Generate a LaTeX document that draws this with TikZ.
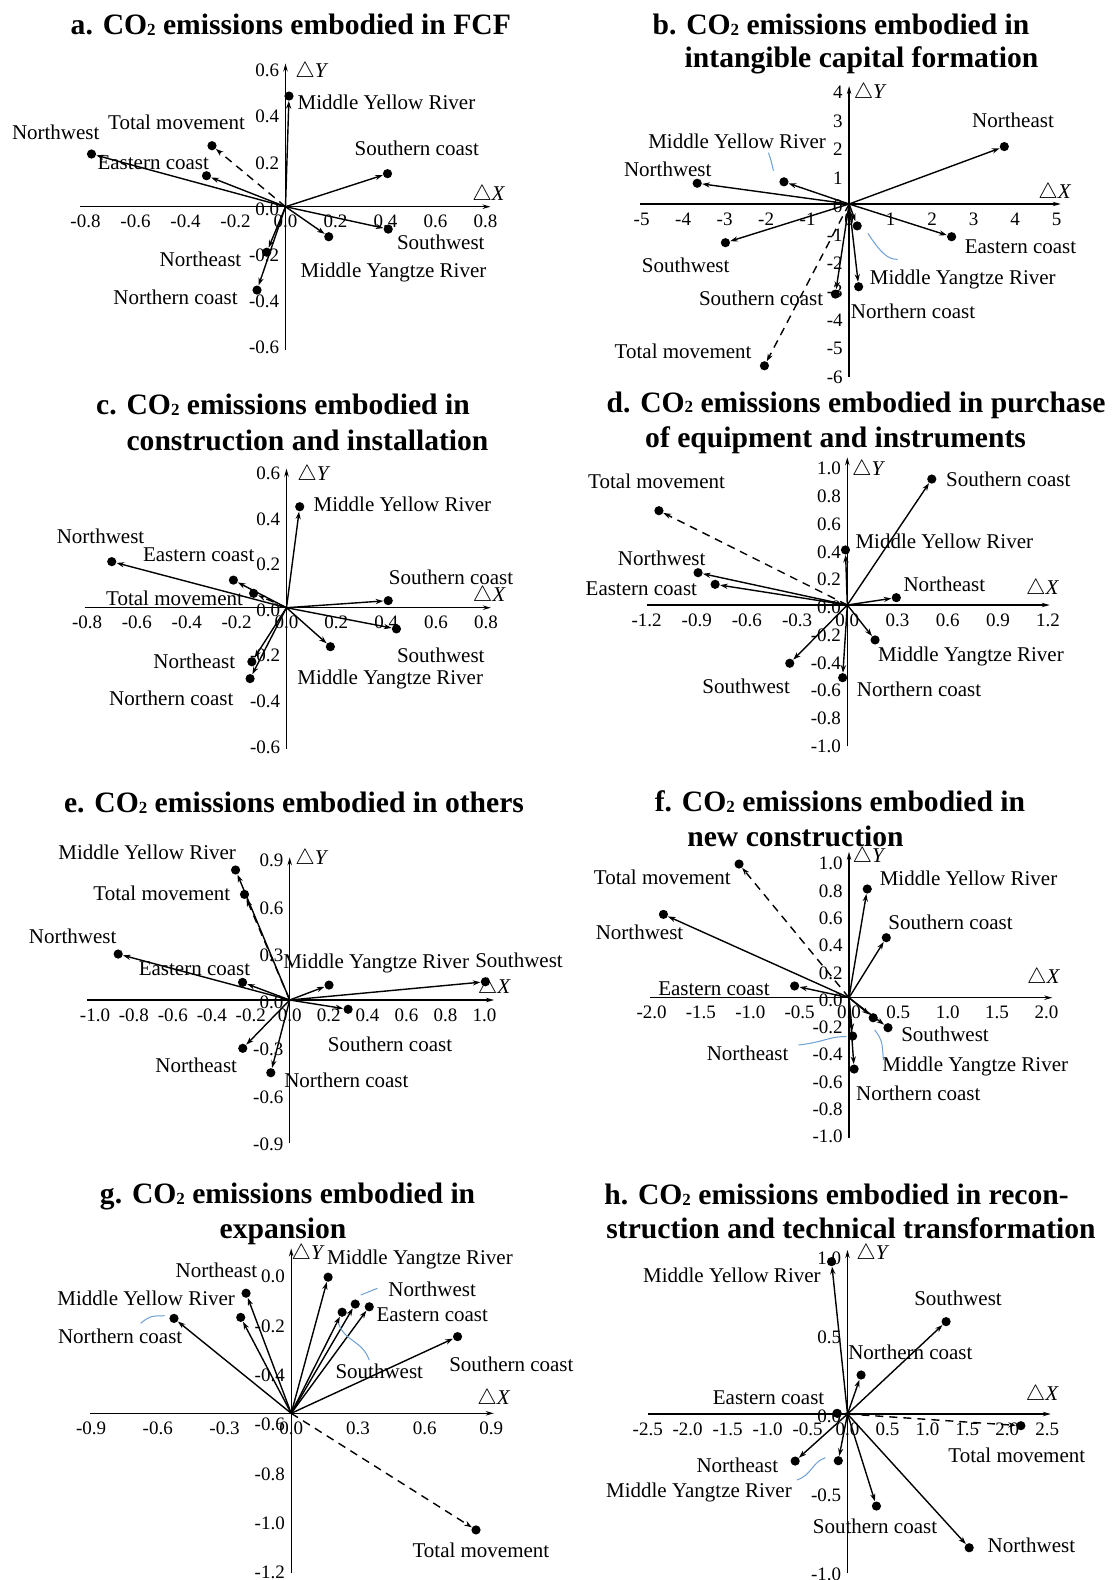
\documentclass[tikz,border=0pt]{standalone}
\usepackage{fontspec}
\setmainfont{Liberation Serif}
\usetikzlibrary{arrows.meta}

\definecolor{leaderblue}{RGB}{110,160,210}
\newcommand{\cotwo}{CO\raisebox{-0.4pt}{\fontsize{8.5}{9}\selectfont 2}}

\tikzset{
  enddot/.style = {circle, fill, inner sep=0pt, minimum size=4.6pt},
  vec/.style = {line width=0.7pt, -{Stealth[length=3.8pt,width=2.6pt]}},
  total/.style = {vec, dash pattern=on 4pt off 3pt},
  axisline/.style = {line width=0.7pt, -{Stealth[length=4pt,width=2.2pt]}},
  regionlbl/.style = {inner sep=0pt, font=\fontsize{10.5}{12}\selectfont},
  ticklbl/.style = {inner sep=0pt, font=\fontsize{9.5}{10}\selectfont},
  xticklbl/.style = {ticklbl, yshift=-7.5pt},
  yticklbl/.style = {ticklbl, anchor=east, xshift=-3pt, yshift=-1.2pt},
  heading/.style = {inner sep=0pt, font=\fontsize{14.8}{17}\selectfont\bfseries},
  leader/.style = {leaderblue, line width=0.5pt},
}

\begin{document}
\begin{tikzpicture}[x=0.5pt, y=-0.5pt]
\fill[white] (0,0) rectangle (1113,1580);
\useasboundingbox (0,0) rectangle (1113,1580);

% titles
\node[heading] (aT) at (290.8,25) {a. \cotwo{} emissions embodied in FCF};
\node[heading] (bT1) at (841,25) {b. \cotwo{} emissions embodied in};
\node[heading] (bT2) at (861.5,60) {intangible capital formation};
\node[heading] (cT1) at (283,405) {c. \cotwo{} emissions embodied in};
\node[heading] (cT2) at (307.5,440.7) {construction and installation};
\node[heading] (dT1) at (856,405) {d. \cotwo{} emissions embodied in purchase};
\node[heading] (dT2) at (835.6,440) {of equipment and instruments};
\node[heading] (eT) at (294,803) {e. \cotwo{} emissions embodied in others};
\node[heading] (fT1) at (840,801.7) {f. \cotwo{} emissions embodied in};
\node[heading] (fT2) at (795.5,836.7) {new construction};
\node[heading] (gT1) at (287.6,1196.7) {g. \cotwo{} emissions embodied in};
\node[heading] (gT2) at (283,1231.7) {expansion};
\node[heading] (hT1) at (836.5,1195) {h. \cotwo{} emissions embodied in recon-};
\node[heading] (hT2) at (851,1228.3) {struction and technical transformation};

% a. FCF
\begin{scope}[shift={(285.5,206.7)}, x=125pt, y=115.5pt]
  \coordinate (a0) at (0,0);
  \draw[axisline] (-0.82,0) -- (0.82,0);
  \draw[axisline] (0,-0.62) -- (0,0.62);
  \foreach \v [count=\i] in {-0.8,-0.6,-0.4,-0.2,0.0,0.2,0.4,0.6,0.8}
    \node[xticklbl] (aX\i) at (\v,0) {\v};
  \foreach \v [count=\i] in {-0.6,-0.4,-0.2,0.0,0.2,0.4,0.6}
    \node[yticklbl] (aY\i) at (0,\v) {\v};
  \node[regionlbl] (aDY) at (0.106,0.584) {$\triangle$\textit{Y}};
  \node[regionlbl] (aDX) at (0.813,0.05) {$\triangle$\textit{X}};

  \node[enddot] (aMYR) at (0.014,0.479) {};
  \node[enddot] (aTM) at (-0.294,0.264) {};
  \node[enddot] (aNW) at (-0.776,0.228) {};
  \node[enddot] (aEC) at (-0.316,0.134) {};
  \node[enddot] (aSC) at (0.408,0.143) {};
  \node[enddot] (aSW) at (0.411,-0.097) {};
  \node[enddot] (aMYZ) at (0.173,-0.130) {};
  \node[enddot] (aNE) at (-0.075,-0.197) {};
  \node[enddot] (aNC) at (-0.114,-0.361) {};
  \foreach \r in {MYR,NW,EC,SC,SW,MYZ,NE,NC}
    \draw[vec] (a0) -- (a\r);
  \draw[total] (a0) -- (aTM);

  \node[regionlbl] (aMYRl) at (0.404,0.450) {Middle Yellow River};
  \node[regionlbl] (aTMl) at (-0.436,0.365) {Total movement};
  \node[regionlbl] (aNWl) at (-0.919,0.322) {Northwest};
  \node[regionlbl] (aECl) at (-0.529,0.192) {Eastern coast};
  \node[regionlbl] (aSCl) at (0.525,0.253) {Southern coast};
  \node[regionlbl] (aSWl) at (0.621,-0.154) {Southwest};
  \node[regionlbl] (aMYZl) at (0.432,-0.286) {Middle Yangtze River};
  \node[regionlbl] (aNEl) at (-0.340,-0.226) {Northeast};
  \node[regionlbl] (aNCl) at (-0.44,-0.394) {Northern coast};
\end{scope}

% b. intangible capital formation
\begin{scope}[shift={(849.1,204)}, x=20.75pt, y=14.215pt]
  \coordinate (b0) at (0,0);
  \draw[axisline] (-5.03,0) -- (5.1,0);
  \draw[axisline] (0,-6.07) -- (0,4.15);
  \foreach \v [count=\i] in {-5,-4,-3,-2,-1,0,1,2,3,4,5}
    \node[xticklbl] (bX\i) at (\v,0) {\v};
  \foreach \v [count=\i] in {-6,-5,-4,-3,-2,-1,0,1,2,3,4}
    \node[yticklbl] (bY\i) at (0,\v) {\v};
  \node[regionlbl] (bDY) at (0.51,3.91) {$\triangle$\textit{Y}};
  \node[regionlbl] (bDX) at (4.96,0.40) {$\triangle$\textit{X}};

  \node[enddot] (bNE) at (3.74,2.02) {};
  \node[enddot] (bMYR) at (-1.57,0.78) {};
  \node[enddot] (bNW) at (-3.66,0.73) {};
  \node[enddot] (bSW) at (-2.98,-1.36) {};
  \node[enddot] (bEC) at (2.47,-1.15) {};
  \node[enddot] (bMYZ) at (0.195,-0.77) {};
  \node[enddot] (bNC) at (0.23,-2.91) {};
  \node[enddot] (bSC) at (-0.33,-3.17) {};
  \node[enddot] (bTM) at (-2.04,-5.69) {};
  \foreach \r in {NE,MYR,NW,SW,EC,MYZ,NC,SC}
    \draw[vec] (b0) -- (b\r);
  \draw[total] (b0) -- (bTM);

  \node[regionlbl] (bNEl) at (3.95,2.93) {Northeast};
  \node[regionlbl] (bMYRl) at (-2.70,2.19) {Middle Yellow River};
  \node[regionlbl] (bNWl) at (-4.37,1.23) {Northwest};
  \node[regionlbl] (bECl) at (4.13,-1.50) {Eastern coast};
  \node[regionlbl] (bSWl) at (-3.94,-2.15) {Southwest};
  \node[regionlbl] (bMYZl) at (2.74,-2.67) {Middle Yangtze River};
  \node[regionlbl] (bSCl) at (-2.12,-3.32) {Southern coast};
  \node[regionlbl] (bNCl) at (1.54,-3.79) {Northern coast};
  \node[regionlbl] (bTMl) at (-4.0,-5.19) {Total movement};
\end{scope}
\draw[leader] (768.4,152.7) .. controls (771,160) .. (773.4,170.7);
\draw[leader] (867.9,233.3) .. controls (880,252) and (888,260) .. (897.7,259.3);

% c. construction and installation
\begin{scope}[shift={(286.5,607.7)}, x=124.65pt, y=114pt]
  \coordinate (c0) at (0,0);
  \draw[axisline] (-0.81,0) -- (0.82,0);
  \draw[axisline] (0,-0.62) -- (0,0.61);
  \foreach \v [count=\i] in {-0.8,-0.6,-0.4,-0.2,0.0,0.2,0.4,0.6,0.8}
    \node[xticklbl] (cX\i) at (\v,0) {\v};
  \foreach \v [count=\i] in {-0.6,-0.4,-0.2,0.0,0.2,0.4,0.6}
    \node[yticklbl] (cY\i) at (0,\v) {\v};
  \node[regionlbl] (cDY) at (0.11,0.58) {$\triangle$\textit{Y}};
  \node[regionlbl] (cDX) at (0.814,0.051) {$\triangle$\textit{X}};

  \node[enddot] (cMYR) at (0.053,0.443) {};
  \node[enddot] (cNW) at (-0.701,0.202) {};
  \node[enddot] (cEC) at (-0.213,0.121) {};
  \node[enddot] (cTM) at (-0.132,0.063) {};
  \node[enddot] (cSC) at (0.408,0.031) {};
  \node[enddot] (cSW) at (0.441,-0.093) {};
  \node[enddot] (cMYZ) at (0.176,-0.171) {};
  \node[enddot] (cNE) at (-0.139,-0.237) {};
  \node[enddot] (cNC) at (-0.146,-0.311) {};
  \foreach \r in {MYR,NW,EC,SC,SW,MYZ,NE,NC}
    \draw[vec] (c0) -- (c\r);
  \draw[total] (c0) -- (cTM);

  \node[regionlbl] (cMYRl) at (0.465,0.453) {Middle Yellow River};
  \node[regionlbl] (cNWl) at (-0.746,0.314) {Northwest};
  \node[regionlbl] (cECl) at (-0.352,0.231) {Eastern coast};
  \node[regionlbl] (cTMl) at (-0.449,0.041) {Total movement};
  \node[regionlbl] (cSCl) at (0.66,0.132) {Southern coast};
  \node[regionlbl] (cSWl) at (0.619,-0.207) {Southwest};
  \node[regionlbl] (cMYZl) at (0.416,-0.313) {Middle Yangtze River};
  \node[regionlbl] (cNEl) at (-0.37,-0.237) {Northeast};
  \node[regionlbl] (cNCl) at (-0.462,-0.397) {Northern coast};
\end{scope}

% d. purchase of equipment and instruments
\begin{scope}[shift={(847.3,605)}, x=83.65pt, y=69.35pt]
  \coordinate (d0) at (0,0);
  \draw[axisline] (-1.2,0) -- (1.21,0);
  \draw[axisline] (0,-1.02) -- (0,1.065);
  \foreach \v [count=\i] in {-1.2,-0.9,-0.6,-0.3,0.0,0.3,0.6,0.9,1.2}
    \node[xticklbl] (dX\i) at (\v,0) {\v};
  \foreach \v [count=\i] in {-1.0,-0.8,-0.6,-0.4,-0.2,0.0,0.2,0.4,0.6,0.8,1.0}
    \node[yticklbl] (dY\i) at (0,\v) {\v};
  \node[regionlbl] (dDY) at (0.127,0.973) {$\triangle$\textit{Y}};
  \node[regionlbl] (dDX) at (1.168,0.113) {$\triangle$\textit{X}};

  \node[enddot] (dSC) at (0.505,0.908) {};
  \node[enddot] (dTM) at (-1.126,0.68) {};
  \node[enddot] (dMYR) at (-0.011,0.397) {};
  \node[enddot] (dNW) at (-0.892,0.233) {};
  \node[enddot] (dEC) at (-0.79,0.149) {};
  \node[enddot] (dNE) at (0.293,0.053) {};
  \node[enddot] (dMYZ) at (0.166,-0.252) {};
  \node[enddot] (dSW) at (-0.344,-0.42) {};
  \node[enddot] (dNC) at (-0.028,-0.524) {};
  \foreach \r in {SC,MYR,NW,EC,NE,MYZ,SW,NC}
    \draw[vec] (d0) -- (d\r);
  \draw[total] (d0) -- (dTM);

  \node[regionlbl] (dTMl) at (-1.14,0.894) {Total movement};
  \node[regionlbl] (dSCl) at (0.962,0.908) {Southern coast};
  \node[regionlbl] (dMYRl) at (0.58,0.461) {Middle Yellow River};
  \node[regionlbl] (dNWl) at (-1.11,0.337) {Northwest};
  \node[regionlbl] (dECl) at (-1.231,0.12) {Eastern coast};
  \node[regionlbl] (dNEl) at (0.58,0.151) {Northeast};
  \node[regionlbl] (dMYZl) at (0.739,-0.373) {Middle Yangtze River};
  \node[regionlbl] (dSWl) at (-0.605,-0.584) {Southwest};
  \node[regionlbl] (dNCl) at (0.429,-0.608) {Northern coast};
\end{scope}

% e. others
\begin{scope}[shift={(289.7,1000)}, x=97.35pt, y=78.7pt]
  \coordinate (e0) at (0,0);
  \draw[axisline] (-1.04,0) -- (1.05,0);
  \draw[axisline] (0,-0.91) -- (0,0.907);
  \foreach \v [count=\i] in {-1.0,-0.8,-0.6,-0.4,-0.2,0.0,0.2,0.4,0.6,0.8,1.0}
    \node[xticklbl] (eX\i) at (\v,0) {\v};
  \foreach \v [count=\i] in {-0.9,-0.6,-0.3,0.0,0.3,0.6,0.9}
    \node[yticklbl] (eY\i) at (0,\v) {\v};
  \node[regionlbl] (eDY) at (0.114,0.894) {$\triangle$\textit{Y}};
  \node[regionlbl] (eDX) at (1.051,0.074) {$\triangle$\textit{X}};

  \node[enddot] (eMYR) at (-0.278,0.826) {};
  \node[enddot] (eTM) at (-0.232,0.671) {};
  \node[enddot] (eNW) at (-0.881,0.292) {};
  \node[enddot] (eEC) at (-0.242,0.112) {};
  \node[enddot] (eMYZ) at (0.202,0.095) {};
  \node[enddot] (eSW) at (1.005,0.116) {};
  \node[enddot] (eSC) at (0.30,-0.059) {};
  \node[enddot] (eNE) at (-0.241,-0.307) {};
  \node[enddot] (eNC) at (-0.097,-0.462) {};
  \foreach \r in {MYR,NW,EC,MYZ,SW,SC,NE,NC}
    \draw[vec] (e0) -- (e\r);
  \draw[total] (e0) -- (eTM);

  \node[regionlbl] (eMYRl) at (-0.732,0.936) {Middle Yellow River};
  \node[regionlbl] (eTMl) at (-0.657,0.678) {Total movement};
  \node[regionlbl] (eNWl) at (-1.115,0.402) {Northwest};
  \node[regionlbl] (eECl) at (-0.489,0.197) {Eastern coast};
  \node[regionlbl] (eMYZl) at (0.444,0.229) {Middle Yangtze River};
  \node[regionlbl] (eSWl) at (1.178,0.254) {Southwest};
  \node[regionlbl] (eSCl) at (0.515,-0.28) {Southern coast};
  \node[regionlbl] (eNEl) at (-0.48,-0.413) {Northeast};
  \node[regionlbl] (eNCl) at (0.291,-0.508) {Northern coast};
\end{scope}

% f. new construction
\begin{scope}[shift={(849,997.7)}, x=49.35pt, y=68.2pt]
  \coordinate (f0) at (0,0);
  \draw[axisline] (-2.02,0) -- (2.06,0);
  \draw[axisline] (0,-1.03) -- (0,1.07);
  \foreach \v [count=\i] in {-2.0,-1.5,-1.0,-0.5,0.0,0.5,1.0,1.5,2.0}
    \node[xticklbl] (fX\i) at (\v,0) {\v};
  \foreach \v [count=\i] in {-1.0,-0.8,-0.6,-0.4,-0.2,0.0,0.2,0.4,0.6,0.8,1.0}
    \node[yticklbl] (fY\i) at (0,\v) {\v};
  \node[regionlbl] (fDY) at (0.203,1.029) {$\triangle$\textit{Y}};
  \node[regionlbl] (fDX) at (1.972,0.142) {$\triangle$\textit{X}};

  \node[enddot] (fTM) at (-1.114,0.98) {};
  \node[enddot] (fMYR) at (0.185,0.797) {};
  \node[enddot] (fNW) at (-1.88,0.611) {};
  \node[enddot] (fSC) at (0.378,0.44) {};
  \node[enddot] (fEC) at (-0.551,0.086) {};
  \node[enddot] (fMYZ) at (0.245,-0.147) {};
  \node[enddot] (fSW) at (0.395,-0.22) {};
  \node[enddot] (fNE) at (0.037,-0.281) {};
  \node[enddot] (fNC) at (0.052,-0.523) {};
  \foreach \r in {MYR,NW,SC,EC,MYZ,SW,NE,NC}
    \draw[vec] (f0) -- (f\r);
  \draw[total] (f0) -- (fTM);

  \node[regionlbl] (fTMl) at (-1.892,0.88) {Total movement};
  \node[regionlbl] (fMYRl) at (1.211,0.875) {Middle Yellow River};
  \node[regionlbl] (fNWl) at (-2.122,0.479) {Northwest};
  \node[regionlbl] (fSCl) at (1.028,0.55) {Southern coast};
  \node[regionlbl] (fECl) at (-1.368,0.069) {Eastern coast};
  \node[regionlbl] (fSWl) at (0.973,-0.268) {Southwest};
  \node[regionlbl] (fNEl) at (-1.027,-0.408) {Northeast};
  \node[regionlbl] (fMYZl) at (1.279,-0.506) {Middle Yangtze River};
  \node[regionlbl] (fNCl) at (0.702,-0.701) {Northern coast};
\end{scope}
\draw[leader] (798.5,1045) .. controls (825,1042) and (830,1036) .. (846.3,1036.7);
\draw[leader] (874.7,1030) .. controls (882,1040) .. (883.4,1060);

% g. expansion
\begin{scope}[shift={(291.2,1413.3)}, x=111.2pt, y=123.3pt]
  \coordinate (g0) at (0,0);
  \draw[axisline] (-0.905,0) -- (0.911,0);
  \draw[axisline] (0,-0.649) -- (0,0.669);
  \foreach \v [count=\i] in {-0.9,-0.6,-0.3,0.0,0.3,0.6,0.9}
    \node[xticklbl] (gX\i) at (\v,0) {\v};
  \foreach \lbl/\p [count=\i] in {0.0/0.564,-0.2/0.364,-0.4/0.164,-0.6/-0.036,-0.8/-0.236,-1.0/-0.436,-1.2/-0.636}
    \node[yticklbl] (gY\i) at (0,\p) {\lbl};
  \node[regionlbl] (gDY) at (0.076,0.645) {$\triangle$\textit{Y}};
  \node[regionlbl] (gDX) at (0.911,0.057) {$\triangle$\textit{X}};

  \node[enddot] (gMYZ) at (0.166,0.552) {};
  \node[enddot] (gNE) at (-0.203,0.487) {};
  \node[enddot] (gNW) at (0.288,0.443) {};
  \node[enddot] (gEC) at (0.351,0.432) {};
  \node[enddot] (gSW) at (0.229,0.41) {};
  \node[enddot] (gMYR) at (-0.227,0.389) {};
  \node[enddot] (gNC) at (-0.527,0.385) {};
  \node[enddot] (gSC) at (0.748,0.311) {};
  \node[enddot] (gTM) at (0.831,-0.473) {};
  \foreach \r in {MYZ,NE,NW,EC,SW,MYR,NC,SC}
    \draw[vec] (g0) -- (g\r);
  \draw[total] (g0) -- (gTM);

  \node[regionlbl] (gMYZl) at (0.579,0.622) {Middle Yangtze River};
  \node[regionlbl] (gNEl) at (-0.336,0.578) {Northeast};
  \node[regionlbl] (gMYRl) at (-0.652,0.466) {Middle Yellow River};
  \node[regionlbl] (gNCl) at (-0.769,0.311) {Northern coast};
  \node[regionlbl] (gNWl) at (0.634,0.503) {Northwest};
  \node[regionlbl] (gECl) at (0.634,0.399) {Eastern coast};
  \node[regionlbl] (gSWl) at (0.396,0.169) {Southwest};
  \node[regionlbl] (gSCl) at (0.99,0.2) {Southern coast};
  \node[regionlbl] (gTMl) at (0.853,-0.554) {Total movement};
\end{scope}
\draw[leader] (140.6,1323.3) .. controls (150,1316) .. (164.6,1315.7);
\draw[leader] (360.7,1295) -- (377.4,1288.3);
\draw[leader] (338.5,1323.3) .. controls (345,1342) and (362,1340) .. (369.2,1360);

% h. reconstruction and technical transformation
\begin{scope}[shift={(847.5,1414)}, x=39.95pt, y=78.95pt]
  \coordinate (h0) at (0,0);
  \draw[axisline] (-2.5,0) -- (2.545,0);
  \draw[axisline] (0,-1.009) -- (0,1.039);
  \foreach \v [count=\i] in {-2.5,-2.0,-1.5,-1.0,-0.5,0.0,0.5,1.0,1.5,2.0,2.5}
    \node[xticklbl] (hX\i) at (\v,0) {\v};
  \foreach \v [count=\i] in {-1.0,-0.5,0.0,0.5,1.0}
    \node[yticklbl] (hY\i) at (0,\v) {\v};
  \node[regionlbl] (hDY) at (0.319,1.011) {$\triangle$\textit{Y}};
  \node[regionlbl] (hDX) at (2.438,0.12) {$\triangle$\textit{X}};

  \node[enddot] (hMYR) at (-0.2,0.965) {};
  \node[enddot] (hSW) at (1.234,0.585) {};
  \node[enddot] (hNC) at (0.17,0.247) {};
  \node[enddot] (hEC) at (-0.128,0.004) {};
  \node[enddot] (hTM) at (2.17,-0.074) {};
  \node[enddot] (hNE) at (-0.655,-0.298) {};
  \node[enddot] (hMYZ) at (-0.115,-0.296) {};
  \node[enddot] (hSC) at (0.362,-0.583) {};
  \node[enddot] (hNW) at (1.523,-0.847) {};
  \foreach \r in {MYR,SW,NC,EC,NE,MYZ,SC,NW}
    \draw[vec] (h0) -- (h\r);
  \draw[total] (h0) -- (hTM);

  \node[regionlbl] (hMYRl) at (-1.447,0.876) {Middle Yellow River};
  \node[regionlbl] (hSWl) at (1.383,0.733) {Southwest};
  \node[regionlbl] (hNCl) at (0.787,0.391) {Northern coast};
  \node[regionlbl] (hECl) at (-0.988,0.103) {Eastern coast};
  \node[regionlbl] (hTMl) at (2.119,-0.264) {Total movement};
  \node[regionlbl] (hNEl) at (-1.378,-0.327) {Northeast};
  \node[regionlbl] (hMYZl) at (-1.859,-0.498) {Middle Yangtze River};
  \node[regionlbl] (hSCl) at (0.344,-0.714) {Southern coast};
  \node[regionlbl] (hNWl) at (2.302,-0.83) {Northwest};
\end{scope}
\draw[leader] (796.9,1480) .. controls (812,1475) and (812,1462) .. (825.4,1457.7);

\end{tikzpicture}
\end{document}
